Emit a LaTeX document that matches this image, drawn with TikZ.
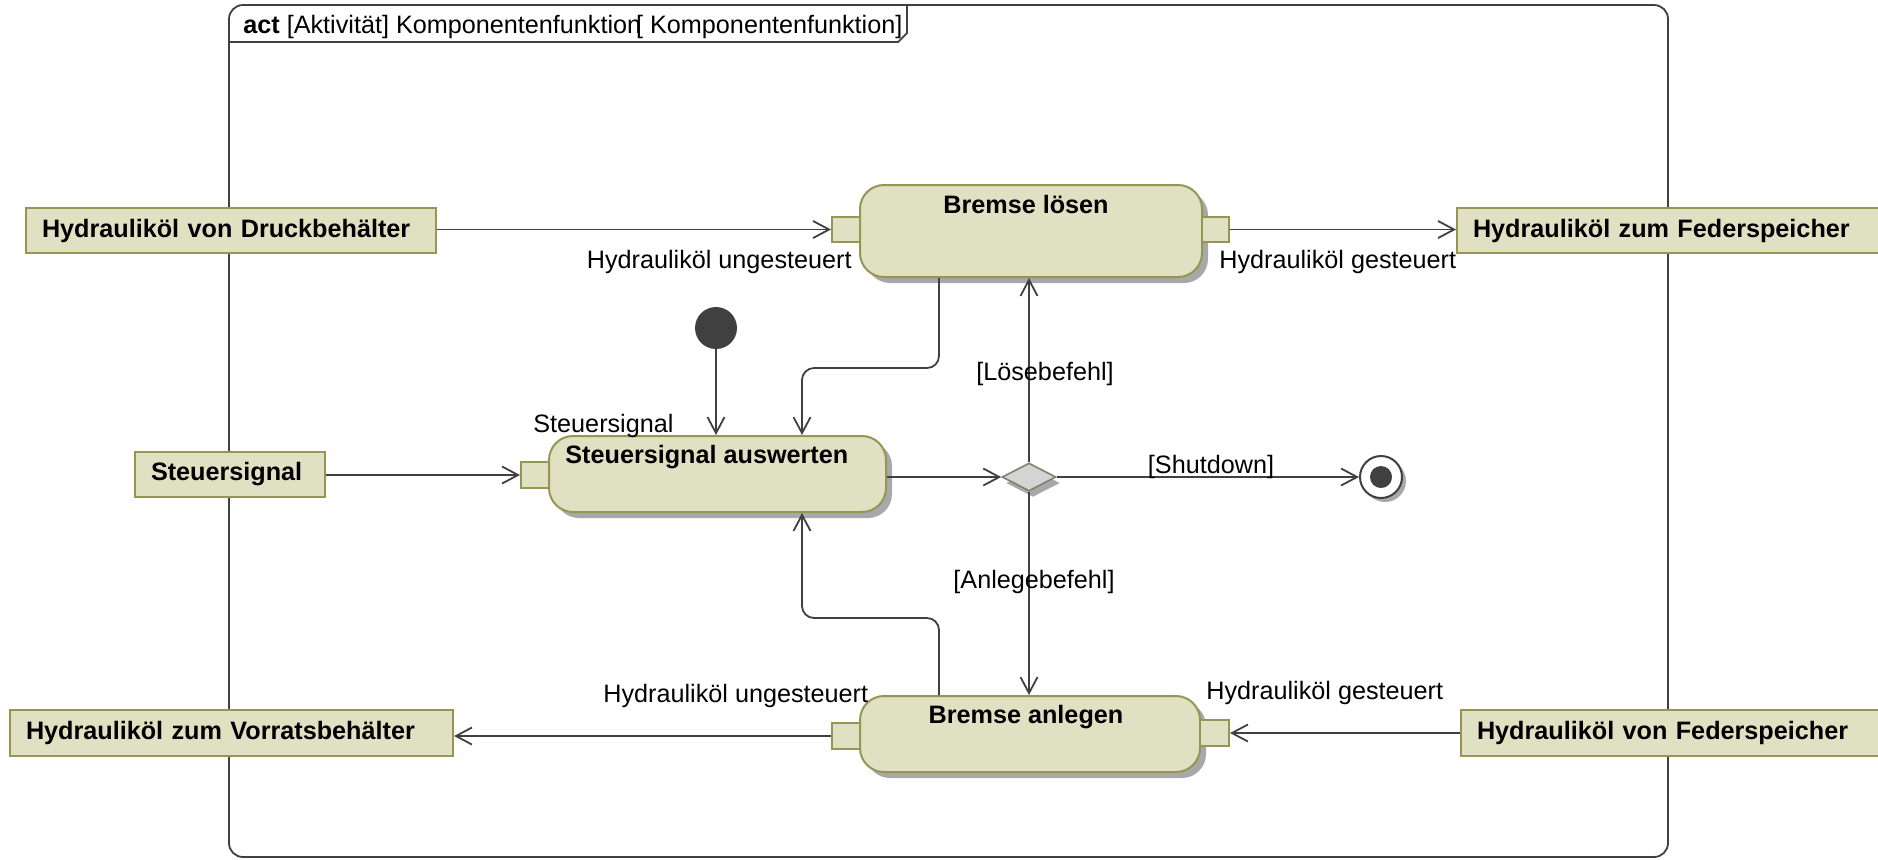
\documentclass[tikz,border=0pt]{standalone}
\usepackage{fontspec}
\setmainfont{Liberation Sans}
\usetikzlibrary{arrows.meta,shapes.geometric,shadows,fit}
\definecolor{nodefill}{RGB}{224,224,194}
\definecolor{nodeline}{RGB}{150,150,82}
\definecolor{inkgray}{RGB}{64,64,64}
\definecolor{shadowgray}{RGB}{168,168,168}
\definecolor{decfill}{RGB}{212,212,212}
\definecolor{decline}{RGB}{128,128,108}
\newcommand{\diagfont}{\fontsize{12.6}{15}\selectfont}
\begin{document}
\begin{tikzpicture}[x=0.5pt, y=-0.5pt,
  every node/.style={font=\diagfont, inner sep=0pt, text=black},
  frameline/.style={draw=inkgray, line width=0.9pt},
  objbox/.style={draw=nodeline, fill=nodefill, line width=1pt, font=\diagfont\bfseries,
    anchor=north west, inner xsep=8pt, align=left},
  action/.style={draw=nodeline, fill=nodefill, line width=1pt, rounded corners=12pt,
    drop shadow={shadow xshift=3pt, shadow yshift=-3pt, fill=shadowgray, opacity=1}},
  actitle/.style={font=\diagfont\bfseries},
  pinbox/.style={draw=nodeline, fill=nodefill, line width=1pt},
  initnode/.style={circle, fill=inkgray, minimum size=21pt},
  finalnode/.style={circle, draw=inkgray, fill=white, line width=1pt, minimum size=21pt,
    drop shadow={shadow xshift=2pt, shadow yshift=-2pt, fill=shadowgray, opacity=1}},
  finalcore/.style={circle, fill=inkgray, minimum size=11pt},
  decision/.style={diamond, draw=decline, fill=decfill, line width=0.8pt,
    minimum width=27pt, minimum height=14pt,
    drop shadow={shadow xshift=2pt, shadow yshift=-3pt, fill=shadowgray, opacity=1}},
  flow/.style={draw=inkgray, line width=0.9pt, -{Straight Barb[length=8pt, width=8.5pt]}}]
\useasboundingbox (0,0) rectangle (1878,859);

% activity frame with its name tab
\draw[frameline, rounded corners=7pt] (229,5) rectangle (1668,857);
\draw[frameline] (907,5) -- (907,33) -- (898,42) -- (229,42);
\node[anchor=base west] (title) at (243,33)
  {\textbf{act} [Aktivität] Komponentenfunktion\kern-0.2em[ Komponentenfunktion]};

% object nodes
\node[objbox, text width=189pt, minimum height=22.5pt] (oDruck) at (25,207) {Hydrauliköl von Druckbehälter};
\node[objbox, text width=216pt, minimum height=22.5pt] (oFederZu) at (1456,207) {Hydrauliköl zum Federspeicher};
\node[objbox, text width=79pt, minimum height=22.5pt] (oSignal) at (134,451) {Steuersignal};
\node[objbox, text width=205.5pt, minimum height=23pt] (oVorrat) at (9,709) {Hydrauliköl zum Vorratsbehälter};
\node[objbox, text width=216pt, minimum height=23pt] (oFederVon) at (1460,709) {Hydrauliköl von Federspeicher};

% actions
\node[action, fit={(860,185) (1202,277)}] (aLoesen) {};
\node[actitle, anchor=base] (tLoesen) at (1026,213) {Bremse lösen};
\node[action, fit={(549,436) (886,512)}] (aAuswerten) {};
\node[actitle, anchor=base west] (tAuswerten) at (565,463) {Steuersignal auswerten};
\node[action, fit={(860,696) (1200,772)}] (aAnlegen) {};
\node[actitle, anchor=base] (tAnlegen) at (1026,723) {Bremse anlegen};

% pins
\node[pinbox, fit={(832,217) (860,242)}] (pLoesenIn) {};
\node[pinbox, fit={(1202,217) (1229,242)}] (pLoesenOut) {};
\node[pinbox, fit={(521,462) (549,488)}] (pAuswertenIn) {};
\node[pinbox, fit={(832,723) (860,749)}] (pAnlegenOut) {};
\node[pinbox, fit={(1200,720) (1229,746)}] (pAnlegenIn) {};

% control nodes
\node[initnode] (start) at (716,328) {};
\node[decision] (dec) at (1029,477) {};
\node[finalnode] (end) at (1381,477) {};
\node[finalcore] (endcore) at (end) {};

% bend points of the two loops back into the evaluation
\coordinate (bendTopR) at (939,368);
\coordinate (bendTopL) at (802,368);
\coordinate (bendBotR) at (939,618);
\coordinate (bendBotL) at (802,618);

% flows
\draw[flow] (pLoesenIn.west -| oDruck.east) -- (pLoesenIn.west);
\draw[flow] (pLoesenOut.east) -- (pLoesenOut.east -| oFederZu.west);
\draw[flow] (pAuswertenIn.west -| oSignal.east) -- (pAuswertenIn.west);
\draw[flow] (start.south) -- (start.south |- aAuswerten.north);
\draw[flow, rounded corners=6pt] (aLoesen.south -| bendTopR) -- (bendTopR) -- (bendTopL) -- (bendTopL |- aAuswerten.north);
\draw[flow, rounded corners=6pt] (aAnlegen.north -| bendBotR) -- (bendBotR) -- (bendBotL) -- (bendBotL |- aAuswerten.south);
\draw[flow] (aAuswerten.east |- dec.west) -- (dec.west);
\draw[flow] (dec.north) -- (dec.north |- aLoesen.south);
\draw[flow] (dec.east) -- (dec.east -| end.west);
\draw[flow] (dec.south) -- (dec.south |- aAnlegen.north);
\draw[flow] (pAnlegenOut.west) -- (pAnlegenOut.west -| oVorrat.east);
\draw[flow] (pAnlegenIn.east -| oFederVon.west) -- (pAnlegenIn.east);

% guards
\node[anchor=base] (gLoesen) at (1045,380) {[Lösebefehl]};
\node[anchor=base] (gShutdown) at (1211,473) {[Shutdown]};
\node[anchor=base] (gAnlegen) at (1034,588) {[Anlegebefehl]};

% pin names
\node[anchor=base east] (lLoesenIn) at (852,268) {Hydrauliköl ungesteuert};
\node[anchor=base west] (lLoesenOut) at (1219,268) {Hydrauliköl gesteuert};
\node[anchor=base west] (lAuswertenIn) at (533,432) {Steuersignal};
\node[anchor=base west] (lAnlegenOut) at (603,702) {Hydrauliköl ungesteuert};
\node[anchor=base west] (lAnlegenIn) at (1206,699) {Hydrauliköl gesteuert};
\end{tikzpicture}
\end{document}
